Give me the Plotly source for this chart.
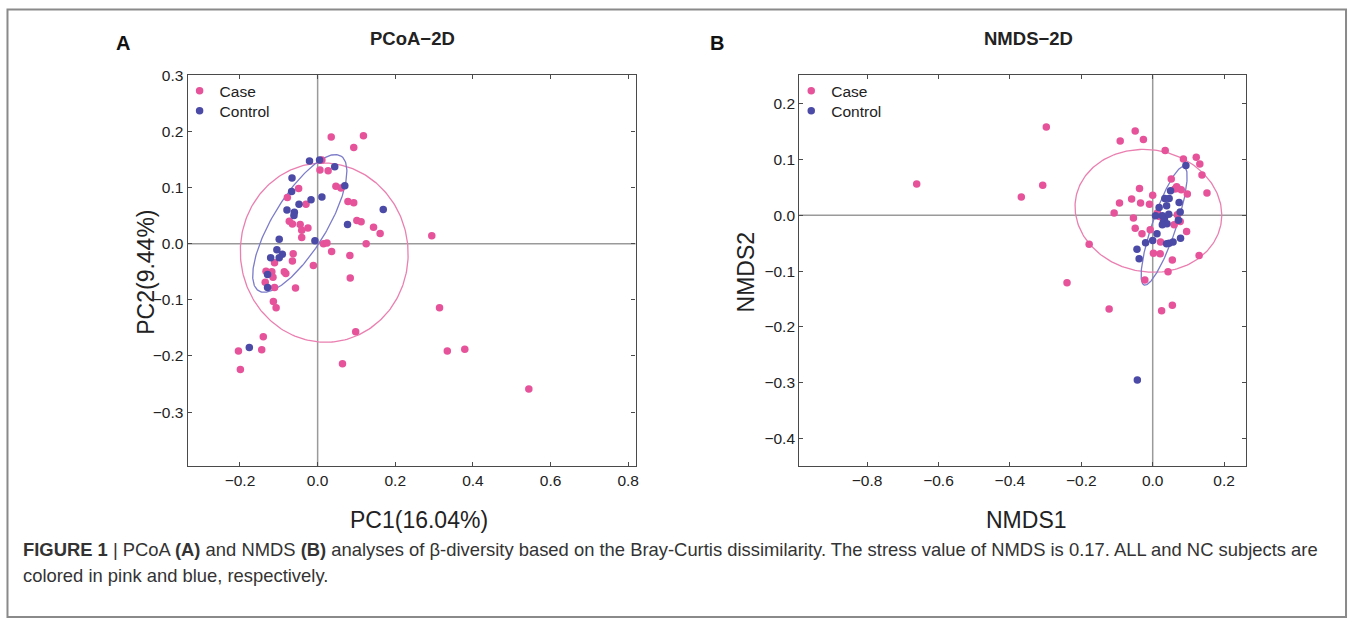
import numpy as np
import plotly.graph_objects as go

# ---------------- data ----------------
case_pc1 = [0.035, 0.118, 0.093, 0.011, 0.006, 0.027, 0.047, 0.060, -0.049, -0.078,
            -0.030, 0.078, 0.093, -0.073, -0.065, -0.045, -0.025, -0.041, 0.101, 0.112,
            0.144, 0.161, 0.294, -0.041, 0.015, 0.024, 0.125, 0.036, 0.083, -0.063,
            -0.065, -0.011, -0.111, -0.133, -0.118, -0.086, -0.082, -0.115, -0.135, -0.111,
            -0.057, 0.084, -0.114, -0.107, 0.098, -0.140, -0.204, -0.144, -0.199, 0.064,
            0.314, 0.334, 0.379, 0.544]
case_pc2 = [0.190, 0.192, 0.171, 0.149, 0.131, 0.130, 0.102, 0.099, 0.098, 0.082,
            0.070, 0.075, 0.073, 0.040, 0.035, 0.034, 0.028, 0.024, 0.041, 0.039,
            0.029, 0.018, 0.014, 0.011, 0.000, 0.001, 0.000, -0.014, -0.021, -0.018,
            -0.031, -0.039, -0.034, -0.049, -0.050, -0.050, -0.053, -0.060, -0.069, -0.078,
            -0.079, -0.061, -0.103, -0.114, -0.157, -0.166, -0.191, -0.189, -0.224, -0.214,
            -0.114, -0.191, -0.188, -0.259]

control_pc1 = [-0.021, 0.005, 0.044, -0.066, 0.070, -0.067, 0.011, -0.017, -0.048, -0.079,
               -0.060, -0.061, 0.169, 0.077, -0.099, -0.007, -0.105, -0.091, -0.121, -0.099,
               -0.129, -0.129, -0.176]
control_pc2 = [0.147, 0.149, 0.137, 0.117, 0.103, 0.093, 0.083, 0.078, 0.070, 0.060,
               0.056, 0.050, 0.061, 0.034, 0.008, 0.005, -0.011, -0.019, -0.025, -0.025,
               -0.055, -0.078, -0.185]

case_nmds1 = [-0.661, -0.368, -0.308, -0.298, -0.049, -0.091, -0.026, 0.035, 0.086, 0.122,
              0.132, 0.138, 0.152, 0.052, -0.037, -0.059, -0.093, -0.034, -0.009, 0.000,
              0.062, 0.070, 0.080, 0.067, 0.097, -0.108, -0.054, -0.049, -0.030, 0.019,
              0.013, 0.069, 0.060, 0.077, 0.095, -0.007, 0.022, -0.178, 0.002, 0.021,
              0.130, 0.055, 0.043, -0.022, -0.240, -0.122, 0.055, 0.025]
case_nmds2 = [0.056, 0.033, 0.054, 0.158, 0.151, 0.133, 0.136, 0.116, 0.101, 0.104,
              0.092, 0.072, 0.040, 0.065, 0.048, 0.029, 0.022, 0.022, 0.020, 0.036,
              0.047, 0.048, 0.046, 0.051, 0.038, 0.004, -0.005, -0.023, -0.033, -0.002,
              0.004, 0.001, -0.017, -0.011, -0.029, -0.026, -0.048, -0.052, -0.068, -0.069,
              -0.072, -0.080, -0.101, -0.116, -0.121, -0.168, -0.161, -0.171]

control_nmds1 = [0.093, 0.050, 0.034, 0.046, 0.074, 0.018, 0.039, 0.077, 0.008, 0.027,
                 0.033, 0.030, 0.040, 0.027, 0.045, 0.072, 0.012, 0.000, -0.020, 0.078,
                 0.057, 0.046, 0.039, -0.044, -0.038, -0.043]
control_nmds2 = [0.089, 0.044, 0.030, 0.030, 0.023, 0.014, 0.017, 0.006, -0.001, -0.001,
                 -0.006, -0.012, -0.015, -0.017, 0.002, -0.009, -0.033, -0.045, -0.049, -0.041,
                 -0.048, -0.050, -0.051, -0.061, -0.078, -0.295]

# ellipse parameters (centre, two conjugate semi-axis vectors) in data units
ell_case_pcoa = [(0.017, -0.016), (-0.022, 0.159), (0.215, 0.014)]
ell_ctrl_pcoa = [(-0.046, 0.036), (0.106, 0.120), (-0.059, 0.025)]
ell_case_nmds = [(-0.012, 0.008), (-0.014, 0.110), (0.205, 0.000)]
ell_ctrl_nmds = [(0.032, -0.019), (0.056, 0.106), (-0.032, 0.0068)]

pc1_ticks = [-0.2, 0.0, 0.2, 0.4, 0.6, 0.8]
pc2_ticks = [-0.3, -0.2, -0.1, 0.0, 0.1, 0.2, 0.3]
nmds1_ticks = [-0.8, -0.6, -0.4, -0.2, 0.0, 0.2]
nmds2_ticks = [-0.4, -0.3, -0.2, -0.1, 0.0, 0.1, 0.2]

# ---------------- styling ----------------
W, H = 1357, 623
PINK = "#e6539a"
BLUE = "#4b4aa6"
PINK_L = "#ea7fb0"
BLUE_L = "#7b7bc9"
FONT = "Liberation Sans, Arial, sans-serif"
Y_OFF, Y_SCALE = 7.8, 0.986   # vertical correction for the capture


def ellipse(params, n=240):
    (cx, cy), p, q = params
    t = np.linspace(0, 2 * np.pi, n)
    return cx + np.cos(t) * p[0] + np.sin(t) * q[0], cy + np.cos(t) * p[1] + np.sin(t) * q[1]


def px(x):
    return x / W


def py(y):
    ys = max((y - Y_OFF) / Y_SCALE, 0.5)
    return 1 - ys / H


fig = go.Figure()

axA = dict(x0=188, x1=637, y0=74, y1=465)
axB = dict(x0=801, x1=1249, y0=74, y1=465)

common_ax = dict(showgrid=False, zeroline=False, showline=True, mirror="ticks",
                 linecolor="#4a4a4a", linewidth=1.2, ticks="inside", ticklen=4,
                 tickcolor="#4a4a4a", tickfont=dict(family=FONT, size=15.5, color="#222"),
                 tickformat=".1f")

fig.update_layout(
    xaxis=dict(domain=[px(axA["x0"]), px(axA["x1"])], range=[-0.335, 0.819],
               tickvals=pc1_ticks, anchor="y", **common_ax),
    yaxis=dict(domain=[py(axA["y1"]), py(axA["y0"])], range=[-0.396, 0.300],
               tickvals=pc2_ticks, anchor="x", **common_ax),
    xaxis2=dict(domain=[px(axB["x0"]), px(axB["x1"])], range=[-0.990, 0.262],
                tickvals=nmds1_ticks, anchor="y2", **common_ax),
    yaxis2=dict(domain=[py(axB["y1"]), py(axB["y0"])], range=[-0.449, 0.251],
                tickvals=nmds2_ticks, anchor="x2", **common_ax),
)

# zero reference lines
for xr, yr in (("x", "y"), ("x2", "y2")):
    fig.add_shape(type="line", xref=xr + " domain", yref=yr, x0=0, x1=1, y0=0, y1=0,
                  line=dict(color="#9a9a9a", width=1.5), layer="below")
    fig.add_shape(type="line", xref=xr, yref=yr + " domain", x0=0, x1=0, y0=0, y1=1,
                  line=dict(color="#9a9a9a", width=1.5), layer="below")

# Panel A
ex, ey = ellipse(ell_case_pcoa)
fig.add_trace(go.Scatter(x=ex, y=ey, mode="lines", line=dict(color=PINK_L, width=1.3),
                         showlegend=False, hoverinfo="skip", xaxis="x", yaxis="y"))
ex, ey = ellipse(ell_ctrl_pcoa)
fig.add_trace(go.Scatter(x=ex, y=ey, mode="lines", line=dict(color=BLUE_L, width=1.3),
                         showlegend=False, hoverinfo="skip", xaxis="x", yaxis="y"))
fig.add_trace(go.Scatter(x=case_pc1, y=case_pc2, mode="markers", name="Case",
                         marker=dict(color=PINK, size=7.5), xaxis="x", yaxis="y", legend="legend"))
fig.add_trace(go.Scatter(x=control_pc1, y=control_pc2, mode="markers", name="Control",
                         marker=dict(color=BLUE, size=7.5), xaxis="x", yaxis="y", legend="legend3"))

# Panel B
ex, ey = ellipse(ell_case_nmds)
fig.add_trace(go.Scatter(x=ex, y=ey, mode="lines", line=dict(color=PINK_L, width=1.3),
                         showlegend=False, hoverinfo="skip", xaxis="x2", yaxis="y2"))
ex, ey = ellipse(ell_ctrl_nmds)
fig.add_trace(go.Scatter(x=ex, y=ey, mode="lines", line=dict(color=BLUE_L, width=1.3),
                         showlegend=False, hoverinfo="skip", xaxis="x2", yaxis="y2"))
fig.add_trace(go.Scatter(x=case_nmds1, y=case_nmds2, mode="markers", name="Case",
                         marker=dict(color=PINK, size=7.5), xaxis="x2", yaxis="y2", legend="legend2"))
fig.add_trace(go.Scatter(x=control_nmds1, y=control_nmds2, mode="markers", name="Control",
                         marker=dict(color=BLUE, size=7.5), xaxis="x2", yaxis="y2", legend="legend4"))

leg_common = dict(bgcolor="rgba(0,0,0,0)", borderwidth=0, font=dict(family=FONT, size=15.5, color="#222"),
                  xanchor="left", yanchor="middle", itemwidth=30, tracegroupgap=0)
fig.update_layout(
    legend=dict(x=px(180), y=py(90), **leg_common),
    legend3=dict(x=px(180), y=py(110), **leg_common),
    legend2=dict(x=px(793), y=py(90), **leg_common),
    legend4=dict(x=px(793), y=py(110), **leg_common),
)

ann = []
# panel labels and titles
ann.append(dict(x=px(123), y=py(42), text="<b>A</b>", font=dict(family=FONT, size=20, color="#111")))
ann.append(dict(x=px(719), y=py(42), text="<b>B</b>", font=dict(family=FONT, size=20, color="#111")))
ann.append(dict(x=px(413), y=py(37), text="<b>PCoA−2D</b>", font=dict(family=FONT, size=18.5, color="#222")))
ann.append(dict(x=px(1031), y=py(37), text="<b>NMDS−2D</b>", font=dict(family=FONT, size=18.5, color="#222")))
# axis titles
ann.append(dict(x=px(420), y=py(519), text="PC1(16.04%)", font=dict(family=FONT, size=23, color="#222")))
ann.append(dict(x=px(1029), y=py(519), text="NMDS1", font=dict(family=FONT, size=23, color="#222")))
ann.append(dict(x=px(146), y=py(271), text="PC2(9.44%)", textangle=-90, font=dict(family=FONT, size=23, color="#222")))
ann.append(dict(x=px(748), y=py(271), text="NMDS2", textangle=-90, font=dict(family=FONT, size=23, color="#222")))
# caption
cap1 = ("<b>FIGURE 1</b> | PCoA <b>(A)</b> and NMDS <b>(B)</b> analyses of β-diversity based on the "
        "Bray-Curtis dissimilarity. The stress value of NMDS is 0.17. ALL and NC subjects are")
cap2 = "colored in pink and blue, respectively."
ann.append(dict(x=px(21), y=py(549), text=cap1, xanchor="left", font=dict(family=FONT, size=18.4, color="#333")))
ann.append(dict(x=px(21), y=py(575), text=cap2, xanchor="left", font=dict(family=FONT, size=18.4, color="#333")))

for a in ann:
    a.setdefault("xanchor", "center")
    a.update(xref="paper", yref="paper", yanchor="middle", showarrow=False)
fig.update_layout(annotations=ann)

# outer figure frame
fig.add_shape(type="rect", xref="paper", yref="paper", x0=px(7.5), x1=px(1349), y0=py(616), y1=py(7),
              line=dict(color="#8a8a8a", width=2), layer="below")

fig.update_layout(width=W, height=H, margin=dict(l=0, r=0, t=0, b=0),
                  paper_bgcolor="white", plot_bgcolor="white")

post = ("document.documentElement.style.overflow='hidden';"
        "document.body.style.margin='0px';document.body.style.overflow='hidden';"
        "var d=document.getElementById('{plot_id}');"
        "d.style.position='absolute';d.style.top='0px';d.style.left='0px';")
fig.write_html("out.html", config={"displayModeBar": False}, post_script=post)
